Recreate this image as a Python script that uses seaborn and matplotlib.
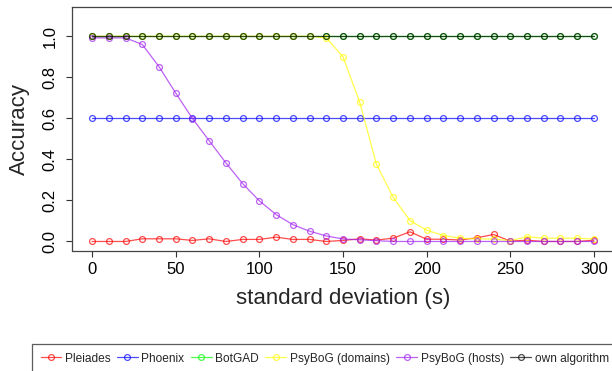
import matplotlib
matplotlib.use("Agg")
import matplotlib.pyplot as plt
import seaborn as sns
import pandas as pd

sns.set_style("ticks")
plt.rcParams['font.family'] = ['Liberation Sans', 'DejaVu Sans']

# standard deviation (s)
std_dev = [0, 10, 20, 30, 40, 50, 60, 70, 80, 90, 100, 110, 120, 130, 140, 150,
           160, 170, 180, 190, 200, 210, 220, 230, 240, 250, 260, 270, 280, 290, 300]

pleiades = [0, 0, 0, 0.013, 0.013, 0.013, 0.005, 0.013, 0, 0.01, 0.01, 0.021, 0.01,
            0.01, 0, 0.005, 0.013, 0.007, 0.016, 0.047, 0.011, 0.011, 0.007, 0.018,
            0.034, 0.002, 0.006, 0, 0, 0, 0.006]
phoenix = [0.6] * 31
botgad = [1.0] * 31
psybog_domains = [1, 1, 1, 1, 1, 1, 1, 1, 1, 1, 1, 1, 1, 1, 0.992, 0.90, 0.678,
                  0.376, 0.215, 0.102, 0.055, 0.029, 0.016, 0.012, 0.012, 0.004,
                  0.023, 0.016, 0.016, 0.016, 0.012]
psybog_hosts = [0.992, 0.992, 0.992, 0.96, 0.852, 0.723, 0.599, 0.491, 0.383, 0.282,
                0.198, 0.131, 0.082, 0.05, 0.027, 0.012, 0.008, 0.004, 0, 0, 0, 0,
                0, 0, 0, 0, 0, 0, 0, 0, 0]
own_algorithm = [1.0] * 31

series = [
    ("Pleiades", pleiades, "#ff0000"),
    ("Phoenix", phoenix, "#0000ff"),
    ("BotGAD", botgad, "#00ff00"),
    ("PsyBoG (domains)", psybog_domains, "#ffff00"),
    ("PsyBoG (hosts)", psybog_hosts, "#a020f0"),
    ("own algorithm", own_algorithm, "#000000"),
]

fig = plt.figure(figsize=(6.12, 3.71), dpi=100)
ax = fig.add_axes([72 / 612, 1 - 250.5 / 371, 542 / 612, 243.8 / 371])

for name, vals, col in series:
    df = pd.DataFrame({"sd": std_dev, "acc": vals})
    sns.lineplot(data=df, x="sd", y="acc", ax=ax, color=col, alpha=0.7,
                 linewidth=0.9, marker="o", markersize=4.2,
                 markerfacecolor="none", markeredgecolor=col,
                 markeredgewidth=0.9, label=name, legend=False)

ax.set_xlim(-12, 312)
ax.set_ylim(-0.044, 1.144)
ax.set_xticks([0, 50, 100, 150, 200, 250, 300])
ax.set_yticks([0.0, 0.2, 0.4, 0.6, 0.8, 1.0])
ax.set_yticklabels(["0.0", "0.2", "0.4", "0.6", "0.8", "1.0"], rotation=90, va="center")
ax.tick_params(axis="both", direction="out", length=4.5, width=0.8,
               colors="#333333", labelcolor="black", labelsize=12)
ax.tick_params(axis="y", pad=6)
ax.tick_params(axis="x", pad=4)
for s in ax.spines.values():
    s.set_color("#444444")
    s.set_linewidth(0.9)
ax.set_xlabel("standard deviation (s)", fontsize=16, labelpad=8)
ax.set_ylabel("Accuracy", fontsize=16, labelpad=9)

handles, labels = ax.get_legend_handles_labels()
leg = fig.legend(handles, labels, loc="upper left",
                 bbox_to_anchor=(31.7 / 612, 1 - 343.7 / 371), ncol=6,
                 fontsize=8.6, frameon=True, fancybox=False, handlelength=1.75,
                 handletextpad=0.28, columnspacing=0.55, borderpad=0.74,
                 borderaxespad=0)
leg.get_frame().set_edgecolor("#333333")
leg.get_frame().set_linewidth(0.9)

fig.savefig("out.png", dpi=100)
